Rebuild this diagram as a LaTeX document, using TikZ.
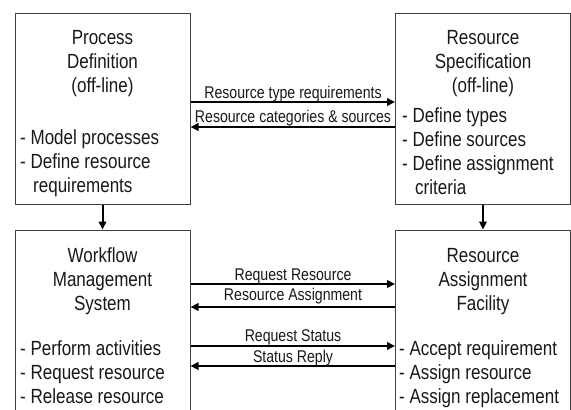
\documentclass[tikz,border=0pt]{standalone}
\usepackage{fontspec}
\setmainfont[FakeStretch=0.83]{Liberation Sans}
\usetikzlibrary{arrows.meta}
\begin{document}
\begin{tikzpicture}[x=1pt,y=-1pt,
  box/.style={draw=black!75, line width=1pt, inner sep=0pt,
    minimum width=175pt, minimum height=191pt},
  openbox/.style={box, minimum height=200pt},
  txt/.style={font=\fontsize{20.5}{24}\selectfont, inner sep=0pt, text=black!90},
  head/.style={txt, anchor=base},
  item/.style={txt, anchor=base west},
  lbl/.style={font=\fontsize{17}{19}\selectfont, inner sep=0pt, anchor=base, text=black!90},
  flow/.style={line width=2pt, -{Triangle[length=8pt,width=7.5pt]}}]
\clip (0,0) rectangle (571,410);
\fill[white] (0,0) rectangle (571,410);

% the four components
\node[box] (pd) at (102.5,108.5) {};
\node[box] (rs) at (483,108.5) {};
\node[openbox] (wm) at (102.5,330) {};
\node[openbox] (ra) at (483,330) {};

% Process Definition
\foreach \t [count=\i] in {Process,Definition,{(off-line)}}
  \node[head] (pd-h\i) at (102.5,{44.3+24*(\i-1)}) {\t};
\node[item] (pd-i1) at (20,144.3) {- Model processes};
\node[item] (pd-i2) at (20,168.3) {- Define resource};
\node[item] (pd-i3) at (33,192.3) {requirements};

% Resource Specification
\foreach \t [count=\i] in {Resource,Specification,{(off-line)}}
  \node[head] (rs-h\i) at (483,{44.3+24*(\i-1)}) {\t};
\node[item] (rs-i1) at (402,122.3) {- Define types};
\node[item] (rs-i2) at (402,146.3) {- Define sources};
\node[item] (rs-i3) at (402,170.3) {- Define assignment};
\node[item] (rs-i4) at (415,194.3) {criteria};

% Workflow Management System
\foreach \t [count=\i] in {Workflow,Management,System}
  \node[head] (wm-h\i) at (102.5,{262.3+24*(\i-1)}) {\t};
\foreach \t [count=\i] in {- Perform activities,- Request resource,- Release resource}
  \node[item] (wm-i\i) at (20,{355.3+24*(\i-1)}) {\t};

% Resource Assignment Facility
\foreach \t [count=\i] in {Resource,Assignment,Facility}
  \node[head] (ra-h\i) at (483,{262.3+24*(\i-1)}) {\t};
\foreach \t [count=\i] in {- Accept requirement,- Assign resource,- Assign replacement}
  \node[item] (ra-i\i) at (399,{355.3+24*(\i-1)}) {\t};

% off-line exchange
\draw[flow] (pd.east |- 0,102) -- (rs.west |- 0,102);
\node[lbl] (m1) at (293,98.5) {Resource type requirements};
\draw[flow] (rs.west |- 0,127) -- (pd.east |- 0,127);
\node[lbl] (m2) at (293,122.7) {Resource categories \& sources};

% run-time exchange
\draw[flow] (wm.east |- 0,284) -- (ra.west |- 0,284);
\node[lbl] (m3) at (293,280.7) {Request Resource};
\draw[flow] (ra.west |- 0,307) -- (wm.east |- 0,307);
\node[lbl] (m4) at (293,300.7) {Resource Assignment};
\draw[flow] (wm.east |- 0,346) -- (ra.west |- 0,346);
\node[lbl] (m5) at (293,341.7) {Request Status};
\draw[flow] (ra.west |- 0,366) -- (wm.east |- 0,366);
\node[lbl] (m6) at (293,362.7) {Status Reply};

% definitions feed the run-time components
\draw[flow] (pd.south) -- (wm.north);
\draw[flow] (rs.south) -- (ra.north);
\end{tikzpicture}
\end{document}
